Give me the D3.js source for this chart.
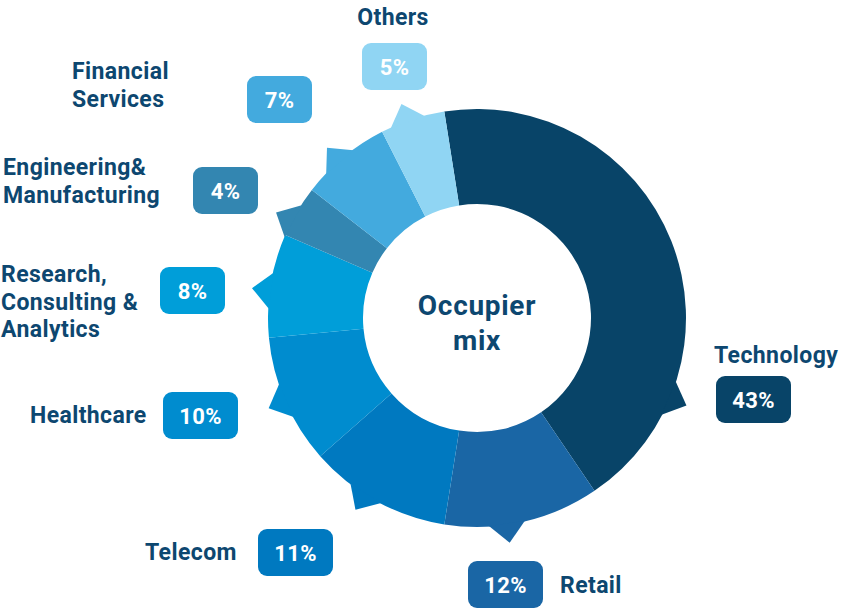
<!DOCTYPE html>
<html>
<head>
<meta charset="utf-8">
<script src="https://cdn.jsdelivr.net/npm/d3@7"></script>
<style>
  html, body { margin: 0; padding: 0; background: #ffffff; }
  svg { display: block; }
  text { font-family: Roboto, "Noto Sans", sans-serif; font-weight: 700; }
</style>
</head>
<body>
<div id="chart"></div>
<script>
// ---- data ----
const categories = [
  "Technology",
  "Retail",
  "Telecom",
  "Healthcare",
  "Research,\nConsulting &\nAnalytics",
  "Engineering&\nManufacturing",
  "Financial\nServices",
  "Others"
];
const shares = [43, 12, 11, 10, 8, 4, 7, 5];
const colors = ["#084468", "#1a66a5", "#0079c0", "#008ccf", "#009ed9", "#3386b1", "#43aade", "#90d5f3"];
const centerTitle = ["Occupier", "mix"];

// ---- layout (positions only) ----
const W = 841, H = 609;
const cx = 477, cy = 318;
const rInner = 114, rOuter = 209, rTip = 227;
const startDeg = -9;
const pointerHalfDeg = 5;
// where, within each slice, the pointer sits (fraction of slice span)
const pointerFrac = [0.786, 0.6, 0.59, 0.5, 0.45, 0.3, 0.43, 0.42];
// label anchor positions: [x, firstBaseline, text-anchor]
const labelPos = [
  [714, 363, "start"],
  [560, 593, "start"],
  [145, 560, "start"],
  [30, 423, "start"],
  [1, 282, "start"],
  [3, 175, "start"],
  [72, 79, "start"],
  [393, 25, "middle"]
];
// badge top-left positions
const badgePos = [
  [716, 376], [468, 561], [258, 529], [163, 392],
  [160, 267], [193, 167], [247, 76], [362, 43]
];
const textColor = "#0d4770";
const lineH = 27.5;

const svg = d3.select("#chart").append("svg")
  .attr("width", W).attr("height", H)
  .attr("viewBox", `0 0 ${W} ${H}`);

const pie = d3.pie().sort(null).value(d => d)
  .startAngle(startDeg * Math.PI / 180)
  .endAngle((startDeg + 360) * Math.PI / 180);
const arcs = pie(shares);

const arc = d3.arc().innerRadius(rInner).outerRadius(rOuter);

const g = svg.append("g").attr("transform", `translate(${cx},${cy})`);

const half = pointerHalfDeg * Math.PI / 180;
const pt = (a, r) => [r * Math.sin(a), -r * Math.cos(a)];
const pointerPath = (d, i, rb) => {
  const a = d.startAngle + (d.endAngle - d.startAngle) * pointerFrac[i];
  const p = d3.path();
  const b1 = pt(a - half, rb);
  const tip = pt(a, rTip);
  const b2 = pt(a + half, rb);
  p.moveTo(b1[0], b1[1]);
  p.lineTo(tip[0], tip[1]);
  p.lineTo(b2[0], b2[1]);
  p.closePath();
  return p.toString();
};

g.selectAll("path.slice")
  .data(arcs)
  .join("path")
  .attr("class", "slice")
  .attr("fill", (d, i) => colors[i])
  .attr("d", arc);

g.selectAll("path.pointer")
  .data(arcs)
  .join("path")
  .attr("class", "pointer")
  .attr("fill", (d, i) => colors[i])
  .attr("d", (d, i) => pointerPath(d, i, rOuter - 0.6));

// center title
const ct = g.append("text")
  .attr("text-anchor", "middle")
  .attr("fill", textColor)
  .attr("font-size", 28)
  .attr("letter-spacing", 0.7);
centerTitle.forEach((t, i) => {
  ct.append("tspan").attr("x", 0).attr("y", -3 + i * 35).text(t);
});

// category labels
categories.forEach((name, i) => {
  const [x, y, anchor] = labelPos[i];
  const t = svg.append("text")
    .attr("text-anchor", anchor)
    .attr("fill", textColor)
    .attr("font-size", 23)
    .attr("letter-spacing", 0.4);
  name.split("\n").forEach((line, j) => {
    t.append("tspan").attr("x", x).attr("y", y + j * lineH).text(line);
  });
});

// value badges
shares.forEach((v, i) => {
  const label = v + "%";
  const bw = label.length > 2 ? 75 : 65;
  const bh = 47;
  const [x, y] = badgePos[i];
  const b = svg.append("g").attr("transform", `translate(${x},${y})`);
  b.append("rect")
    .attr("width", bw).attr("height", bh)
    .attr("rx", 9).attr("ry", 9)
    .attr("fill", colors[i]);
  b.append("text")
    .attr("x", bw / 2).attr("y", bh / 2 + 8)
    .attr("text-anchor", "middle")
    .attr("fill", "#ffffff")
    .attr("font-size", 22)
    .attr("letter-spacing", 0.3)
    .text(label);
});
</script>
</body>
</html>
